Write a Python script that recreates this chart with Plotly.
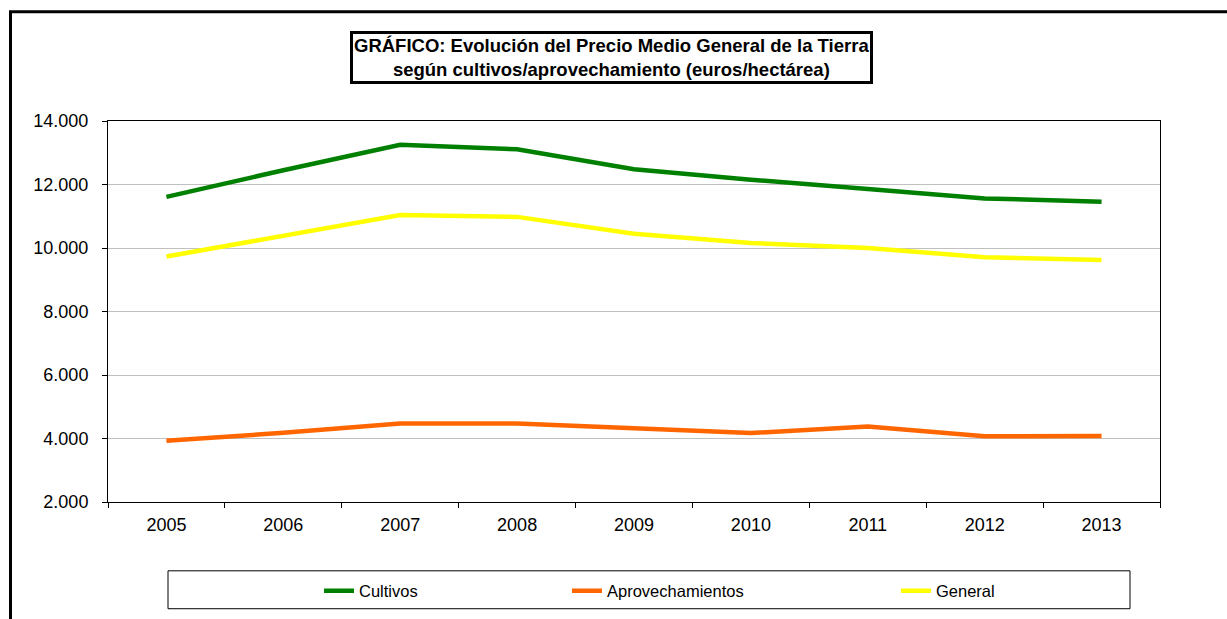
import plotly.graph_objects as go

years = ["2005", "2006", "2007", "2008", "2009", "2010", "2011", "2012", "2013"]
cultivos = [11610, 12450, 13250, 13110, 12480, 12150, 11860, 11560, 11460]
aprovechamientos = [3930, 4180, 4470, 4470, 4320, 4170, 4380, 4070, 4080]
general = [9730, 10390, 11040, 10980, 10450, 10160, 10000, 9710, 9620]

title_text = ("<b>GRÁFICO: Evolución del Precio Medio General de la Tierra<br>"
              "según cultivos/aprovechamiento (euros/hectárea)</b>")

W, H = 1227, 619
OFF = 0  # page body margin removed via post_script
L, R, T, B = 108 - OFF, 1160 - OFF, 121 - OFF, 503 - OFF


def px(x):
    return (x - OFF - L) / (R - L)


def py(y):
    return (B - (y - OFF)) / (B - T)


FONT = "Liberation Sans, Arial, sans-serif"

fig = go.Figure()
fig.add_trace(go.Scatter(x=years, y=cultivos, mode="lines", name="Cultivos",
                         line=dict(color="#008000", width=4.5), legend="legend"))
fig.add_trace(go.Scatter(x=years, y=aprovechamientos, mode="lines", name="Aprovechamientos",
                         line=dict(color="#FF6600", width=4.5), legend="legend2"))
fig.add_trace(go.Scatter(x=years, y=general, mode="lines", name="General",
                         line=dict(color="#FFFF00", width=4.5), legend="legend3"))

leg_common = dict(orientation="h", yanchor="middle", xanchor="left",
                  bgcolor="rgba(0,0,0,0)", borderwidth=0,
                  font=dict(family=FONT, size=16.5, color="black"))

fig.update_layout(
    width=W, height=H,
    margin=dict(l=L, r=W - R, t=T, b=H - B, pad=0),
    paper_bgcolor="white", plot_bgcolor="white",
    separators=",.",
    font=dict(family=FONT, color="black"),
    showlegend=True,
    legend=dict(x=px(319), y=py(591), **leg_common),
    legend2=dict(x=px(567), y=py(591), **leg_common),
    legend3=dict(x=px(896), y=py(591), **leg_common),
    xaxis=dict(type="category", range=[-0.5, 8.5], showgrid=False, showline=True,
               linecolor="black", linewidth=1, mirror=True, ticks="outside", ticklen=5,
               tickcolor="black", tickson="boundaries",
               tickfont=dict(family=FONT, size=18, color="black"),
               ticklabelstandoff=6),
    yaxis=dict(range=[2000, 14000], dtick=2000, tick0=2000, tickformat=",d",
               showgrid=True, gridcolor="#C0C0C0", gridwidth=1,
               showline=True, linecolor="black", linewidth=1, mirror=True,
               ticks="outside", ticklen=5, tickcolor="black",
               tickfont=dict(family=FONT, size=18, color="black"),
               ticklabelstandoff=10, zeroline=False),
)

# outer chart frame (right and bottom edges lie outside the visible window)
fig.add_shape(type="rect", xref="paper", yref="paper",
              x0=px(10.5), x1=px(1260), y0=py(650), y1=py(11.5),
              line=dict(color="black", width=3), fillcolor="rgba(0,0,0,0)", layer="below")
# legend frame
fig.add_shape(type="rect", xref="paper", yref="paper",
              x0=px(168), x1=px(1130), y0=py(610), y1=py(572),
              line=dict(color="black", width=1), fillcolor="rgba(0,0,0,0)")

# title box
fig.add_annotation(text=title_text, xref="paper", yref="paper",
                   x=px(611.5), y=py(57.5), xanchor="center", yanchor="middle",
                   showarrow=False, align="center",
                   font=dict(family=FONT, size=18.5, color="black"),
                   bordercolor="black", borderwidth=3, borderpad=1, bgcolor="white")

fig.write_html("out.html", config={"displayModeBar": False},
               post_script="document.body.style.margin='0';document.body.style.overflow='hidden';")
